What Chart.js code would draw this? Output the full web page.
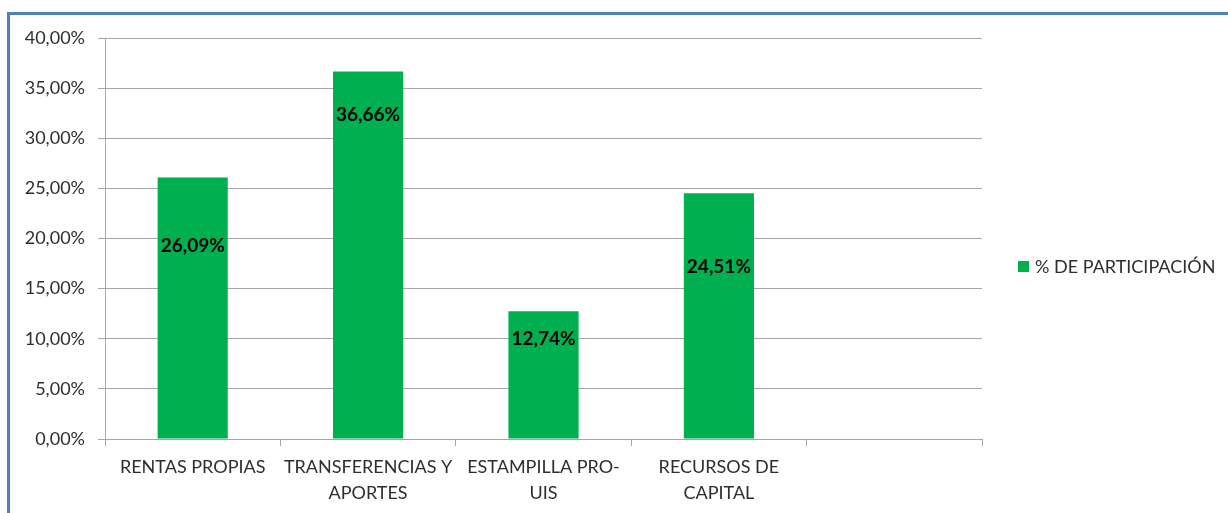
<!DOCTYPE html>
<html>
<head>
<meta charset="utf-8">
<script src="https://cdn.jsdelivr.net/npm/chart.js@4"></script>
<style>
  html, body { margin: 0; padding: 0; background: #fff; overflow: hidden; }
  #frame { position: absolute; left: 7px; top: 12px; width: 1300px; height: 600px;
           border-top: 3px solid #4F81BD; border-left: 3px solid #4F81BD; }
  #wrap { position: absolute; left: 0; top: 0; width: 1228px; height: 513px; }
</style>
</head>
<body>
<div id="frame"></div>
<div id="wrap"><canvas id="grafico" width="1228" height="513"></canvas></div>
<script>
var categorias = [["RENTAS PROPIAS"], ["TRANSFERENCIAS Y", "APORTES"], ["ESTAMPILLA PRO-", "UIS"], ["RECURSOS DE", "CAPITAL"], ""];
var participacion = [26.09, 36.66, 12.74, 24.51, null];
var serieNombre = "% DE PARTICIPACIÓN";
var verde = "#00B050";
var texto = "#2e2e2e";
var fuente = "Lato";

function pct(v) {
  return v.toFixed(2).replace(".", ",") + "%";
}

// etiquetas dentro de las barras (desplazamiento en px desde el tope)
var bajada = [68, 43, 28, 74];
var etiquetas = {
  id: "etiquetas",
  afterDatasetsDraw: function (chart) {
    var ctx = chart.ctx;
    var meta = chart.getDatasetMeta(0);
    ctx.save();
    ctx.font = "bold 19px " + fuente;
    ctx.fillStyle = "#000";
    ctx.textAlign = "center";
    ctx.textBaseline = "middle";
    meta.data.forEach(function (bar, i) {
      var v = participacion[i];
      if (v == null) return;
      ctx.fillText(pct(v), bar.x, bar.y + bajada[i]);
    });
    ctx.restore();
  }
};

var leyenda = {
  id: "leyenda",
  afterDraw: function (chart) {
    var ctx = chart.ctx;
    ctx.save();
    ctx.fillStyle = verde;
    ctx.fillRect(1018, 261, 11, 11);
    ctx.font = "18px " + fuente;
    ctx.fillStyle = texto;
    ctx.textBaseline = "middle";
    ctx.fillText(serieNombre, 1035, 267);
    ctx.restore();
  }
};

new Chart("grafico", {
  type: "bar",
  data: {
    labels: categorias,
    datasets: [{
      label: serieNombre,
      data: participacion,
      backgroundColor: verde,
      barPercentage: 0.4,
      categoryPercentage: 1
    }]
  },
  options: {
    responsive: false,
    animation: false,
    devicePixelRatio: 1,
    layout: { padding: { left: 0, top: 38, right: 246, bottom: 0 } },
    plugins: {
      legend: { display: false },
      tooltip: { enabled: false }
    },
    scales: {
      x: {
        offset: true,
        grid: { offset: true, drawOnChartArea: false, color: "#A6A6A6", tickLength: 7 },
        border: { color: "#A6A6A6" },
        ticks: { color: texto, font: { family: fuente, size: 18, lineHeight: 1.45 }, padding: 8, maxRotation: 0, autoSkip: false },
        afterFit: function (s) { s.height = 74; }
      },
      y: {
        min: 0, max: 40,
        ticks: { stepSize: 5, color: texto, font: { family: fuente, size: 18 }, padding: 13,
                 callback: function (v) { return pct(v); } },
        grid: { color: "#A6A6A6", tickLength: 7 },
        border: { color: "#A6A6A6" },
        afterFit: function (s) { s.width = 105; }
      }
    }
  },
  plugins: [etiquetas, leyenda]
});
</script>
</body>
</html>
